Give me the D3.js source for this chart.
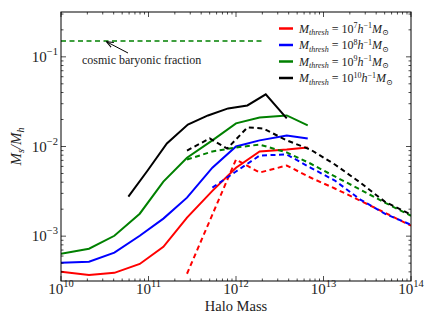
<!DOCTYPE html>
<html><head><meta charset="utf-8">
<script src="https://cdn.jsdelivr.net/npm/d3@7"></script>
<style>body{margin:0;background:#fff}svg{display:block}text{font-family:"Liberation Serif","DejaVu Serif",serif}</style>
</head><body>
<script>
// ---- data (log10 halo mass, stellar-to-halo mass ratio) ----
const logM_solid = [10.0,10.32,10.61,10.90,11.17,11.44,11.73,12.0,12.27,12.58,12.82];
const ratio_solid_7 = [4.0e-4,3.7e-4,3.9e-4,4.9e-4,7.6e-4,1.61e-3,3.2e-3,5.8e-3,8.8e-3,9.25e-3,9.75e-3];
const ratio_solid_8 = [5.06e-4,5.19e-4,6.55e-4,1.01e-3,1.57e-3,2.69e-3,5.8e-3,1.0e-2,1.17e-2,1.33e-2,1.23e-2];
const ratio_solid_9 = [6.37e-4,7.24e-4,1.01e-3,1.78e-3,4.06e-3,7.5e-3,1.17e-2,1.81e-2,2.11e-2,2.22e-2,1.72e-2];
const logM_solid_10 = [10.77,10.99,11.21,11.45,11.68,11.91,12.13,12.34,12.58];
const ratio_solid_10 = [2.76e-3,5.4e-3,1.08e-2,1.76e-2,2.22e-2,2.66e-2,2.87e-2,3.81e-2,2.06e-2];

const logM_dash_7 = [11.44,11.73,12.0,12.27,12.58,12.85,13.13,13.42,13.70,14.0];
const ratio_dash_7 = [3.81e-4,1.74e-3,7.16e-3,5.12e-3,6.14e-3,4.51e-3,3.40e-3,2.49e-3,1.83e-3,1.31e-3];
const logM_dash_8 = [11.73,12.0,12.27,12.58,12.85,13.13,13.42,13.70,14.0];
const ratio_dash_8 = [3.48e-3,5.26e-3,7.93e-3,8.14e-3,5.82e-3,4.17e-3,2.56e-3,1.78e-3,1.34e-3];
const logM_dash_9 = [11.44,11.73,12.0,12.27,12.58,12.85,13.13,13.42,13.70,14.0];
const ratio_dash_9 = [7.16e-3,8.8e-3,9.75e-3,1.05e-2,8.58e-3,6.46e-3,4.63e-3,3.31e-3,2.37e-3,1.69e-3];
const logM_dash_10 = [11.44,11.70,11.90,12.13,12.31,12.58,12.85,13.13,13.42,13.70,14.0];
const ratio_dash_10 = [9.02e-3,1.23e-2,9.5e-3,1.63e-2,1.59e-2,1.17e-2,9.25e-3,6.3e-3,3.96e-3,2.43e-3,1.74e-3];

const baryonFraction = 0.15;
const baryonMassRange = [1e10, 2e12];
const thresholdExponents = ["7","8","9","10"];
const seriesColors = ["#ff0000","#0000ff","#008000","#000000"];
const xTickExponents = [10,11,12,13,14];
const yTickExponents = [-3,-2,-1];

// ---- layout ----
const W = 436, H = 327;
const L = 61, R = 411, T = 12, B = 281;
const svg = d3.select("body").append("svg").attr("width", W).attr("height", H);
const x = d3.scaleLog().domain([1e10, 1e14]).range([L, R]);
const y = d3.scaleLog().domain([Math.pow(10,-3.5), Math.pow(10,-0.5)]).range([B, T]);

svg.append("clipPath").attr("id","clip").append("rect")
  .attr("x", L).attr("y", T).attr("width", R-L).attr("height", B-T);

const line = d3.line().x(d => x(d[0])).y(d => y(d[1]));
const g = svg.append("g").attr("clip-path","url(#clip)");

function series(logM, vals, color, dashed) {
  const pts = logM.map((m,i) => [Math.pow(10,m), vals[i]]);
  g.append("path").datum(pts).attr("d", line)
    .attr("fill","none").attr("stroke", color).attr("stroke-width", 2)
    .attr("stroke-dasharray", dashed ? "5,3.5" : null);
}
series(logM_solid, ratio_solid_7, seriesColors[0], false);
series(logM_solid, ratio_solid_8, seriesColors[1], false);
series(logM_solid, ratio_solid_9, seriesColors[2], false);
series(logM_solid_10, ratio_solid_10, seriesColors[3], false);
series(logM_dash_7, ratio_dash_7, seriesColors[0], true);
series(logM_dash_8, ratio_dash_8, seriesColors[1], true);
series(logM_dash_9, ratio_dash_9, seriesColors[2], true);
series(logM_dash_10, ratio_dash_10, seriesColors[3], true);

// cosmic baryon fraction
g.append("path").datum(baryonMassRange.map(m => [m, baryonFraction])).attr("d", line)
  .attr("fill","none").attr("stroke","#008000").attr("stroke-width",1.5).attr("stroke-dasharray","5,3.5");

// frame
svg.append("rect").attr("x",L).attr("y",T).attr("width",R-L).attr("height",B-T)
  .attr("fill","none").attr("stroke","#000").attr("stroke-width",1);

// ticks (inward, all sides)
const tk = svg.append("g").attr("stroke","#000").attr("stroke-width",0.7);
const isMajor = v => Math.abs(Math.log10(v) - Math.round(Math.log10(v))) < 1e-9;
x.ticks().forEach(v => {
  const len = isMajor(v) ? 5 : 2.5, px = x(v);
  tk.append("line").attr("x1",px).attr("x2",px).attr("y1",B).attr("y2",B-len);
  tk.append("line").attr("x1",px).attr("x2",px).attr("y1",T).attr("y2",T+len);
});
y.ticks().forEach(v => {
  const len = isMajor(v) ? 5 : 2.5, py = y(v);
  tk.append("line").attr("y1",py).attr("y2",py).attr("x1",L).attr("x2",L+len);
  tk.append("line").attr("y1",py).attr("y2",py).attr("x1",R).attr("x2",R-len);
});

function powLabel(px, py, exp, anchor) {
  const t = svg.append("text").attr("x",px).attr("y",py).attr("text-anchor",anchor)
    .attr("font-size",15).attr("fill","#222");
  t.append("tspan").text("10");
  t.append("tspan").attr("dy",-7).attr("font-size",10.5).text(String(exp).replace("-","\u2212"));
  return t;
}
xTickExponents.forEach(e => powLabel(x(Math.pow(10,e)), 294, e, "middle"));
yTickExponents.forEach(e => powLabel(L-3, y(Math.pow(10,e))+5, e, "end"));

// axis titles
svg.append("text").attr("x",(L+R)/2).attr("y",311).attr("text-anchor","middle")
  .attr("font-size",14.5).attr("fill","#222").text("Halo Mass");
const yt = svg.append("text").attr("transform",`translate(21,${(T+B)/2}) rotate(-90)`)
  .attr("text-anchor","middle").attr("font-size",15).attr("fill","#222").attr("font-style","italic");
yt.append("tspan").text("M");
yt.append("tspan").attr("dy",3).attr("font-size",10).text("s");
yt.append("tspan").attr("dy",-3).text("/M");
yt.append("tspan").attr("dy",3).attr("font-size",10).text("h");

// annotation
svg.append("defs").append("marker").attr("id","ah").attr("viewBox","0 0 10 10")
  .attr("refX",9).attr("refY",5).attr("markerWidth",7).attr("markerHeight",7).attr("orient","auto")
  .append("path").attr("d","M0,1 L10,5 L0,9").attr("fill","none").attr("stroke","#000").attr("stroke-width",1.5);
svg.append("line").attr("x1",128).attr("y1",53).attr("x2",107).attr("y2",42)
  .attr("stroke","#000").attr("stroke-width",1).attr("marker-end","url(#ah)");
svg.append("text").attr("x",82).attr("y",64).attr("font-size",12).attr("fill","#222")
  .text("cosmic baryonic fraction");

// legend
const legY = [28.5, 45, 61.5, 78];
thresholdExponents.forEach((e,i) => {
  const ly = legY[i];
  svg.append("line").attr("x1",279).attr("x2",293).attr("y1",ly).attr("y2",ly)
    .attr("stroke",seriesColors[i]).attr("stroke-width",2.5);
  const t = svg.append("text").attr("x",299).attr("y",ly+4).attr("font-size",12).attr("fill","#222");
  t.append("tspan").attr("font-style","italic").text("M");
  t.append("tspan").attr("font-style","italic").attr("font-size",8).attr("dy",2.5).text("thresh");
  t.append("tspan").attr("dy",-2.5).text(" = 10");
  t.append("tspan").attr("font-size",8).attr("dy",-4.5).text(e);
  t.append("tspan").attr("dy",4.5).attr("font-style","italic").text("h");
  t.append("tspan").attr("font-size",8).attr("dy",-4.5).text("\u22121");
  t.append("tspan").attr("dy",4.5).attr("font-style","italic").text("M");
  t.append("tspan").attr("font-size",8).attr("dy",2.5).text("\u2299");
});
</script>
</body></html>
